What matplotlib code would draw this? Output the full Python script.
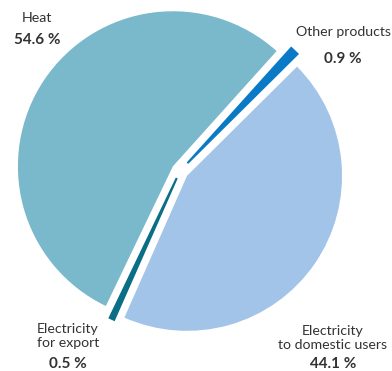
import matplotlib
matplotlib.use('Agg')
import matplotlib.pyplot as plt

labels = ['Heat', 'Electricity\nfor export', 'Electricity\nto domestic users', 'Other products']
shares = [54.6, 0.5, 44.1, 0.9]
colors = ['#7ab9cb', '#0a6e86', '#a2c4e8', '#0a7ac6']
explode = [0.055, 0.05, 0.055, 0.07]

W, H = 392, 371
fig = plt.figure(figsize=(W / 100, H / 100), dpi=100)
plt.rcParams['font.family'] = ['Lato', 'DejaVu Sans']

# pie centre at about (180, 171) px, radius ~155 px
ax = fig.add_axes([9.5 / W, 29.5 / H, 341 / W, 341 / H])
wedges, _ = ax.pie(shares, colors=colors, explode=explode, startangle=48,
                   counterclock=True, wedgeprops=dict(linewidth=0))
# thin slices get an outline in their own colour so they stay visible
for w, c in zip(wedges, colors):
    if w.theta2 - w.theta1 < 5:
        w.set_edgecolor(c)
        w.set_linewidth(1.5)
ax.set_xlim(-1.1, 1.1)
ax.set_ylim(-1.1, 1.1)
ax.set_aspect('equal')
ax.axis('off')

# label positions in pixels: (x, name y, value y)
label_pos = [(37, 18, 40), (68, 336, 364), (333, 338, 364), (343, 32, 59)]
txt = '#333333'
for lab, val, (x, yn, yv) in zip(labels, shares, label_pos):
    fig.text(x / W, 1 - yn / H, lab, ha='center', va='center', fontsize=10.2,
             color=txt, linespacing=1.25)
    fig.text(x / W, 1 - yv / H, f'{val:.1f} %', ha='center', va='center',
             fontsize=11, fontweight='bold', color=txt)

fig.savefig('out.png', dpi=100)
